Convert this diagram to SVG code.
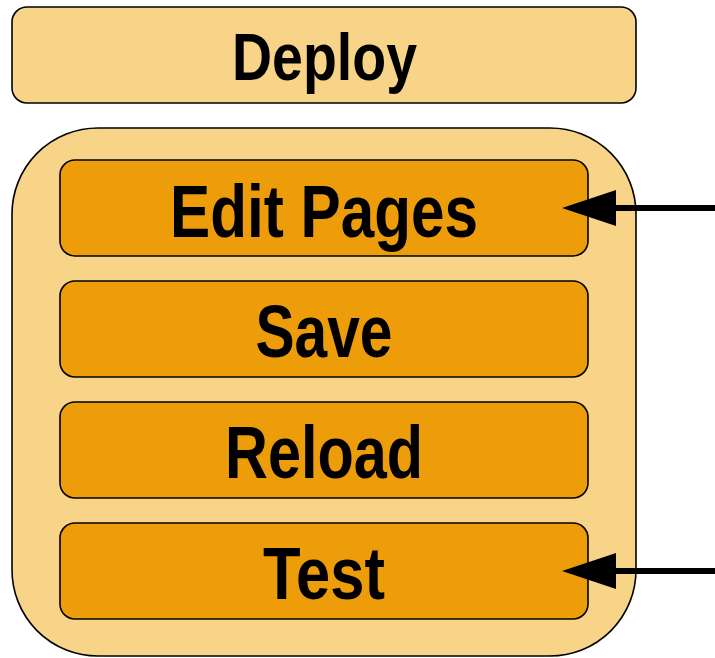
<svg xmlns="http://www.w3.org/2000/svg" width="715" height="658" viewBox="0 0 715 658">
<style>
.light{fill:#F7D487;stroke:#000;stroke-width:1.6}
.dark{fill:#ED9C0A;stroke:#000;stroke-width:1.6}
.t{font-family:"Liberation Sans Narrow","Liberation Sans",Arial,sans-serif;font-weight:bold;fill:#000;text-anchor:middle}
.big{font-size:75px}
.mid{font-size:67px}
.conn{stroke:#000;stroke-width:6;fill:none;marker-end:url(#ah)}
</style>
<defs>
<marker id="ah" markerUnits="userSpaceOnUse" markerWidth="56" markerHeight="38" refX="4" refY="18" orient="auto" viewBox="0 0 56 38">
<path d="M0,0 L54,18 L0,36 Z" fill="#000"/>
</marker>
</defs>
<rect width="715" height="658" fill="#fff"/>
<g id="deploy">
<rect class="light" x="12" y="7" width="624" height="96" rx="15"/>
<text class="t mid" x="324.5" y="80" textLength="185" lengthAdjust="spacingAndGlyphs">Deploy</text>
</g>
<g id="container">
<rect class="light" x="12" y="128" width="624" height="528" rx="86"/>
</g>
<g id="edit">
<rect class="dark" x="60" y="160" width="528" height="96" rx="15"/>
<text class="t big" x="324" y="237" textLength="308" lengthAdjust="spacingAndGlyphs">Edit Pages</text>
</g>
<g id="save">
<rect class="dark" x="60" y="281" width="528" height="96" rx="15"/>
<text class="t big" x="324" y="357" textLength="137" lengthAdjust="spacingAndGlyphs">Save</text>
</g>
<g id="reload">
<rect class="dark" x="60" y="402" width="528" height="96" rx="15"/>
<text class="t big" x="324" y="478" textLength="198" lengthAdjust="spacingAndGlyphs">Reload</text>
</g>
<g id="test">
<rect class="dark" x="60" y="523" width="528" height="96" rx="15"/>
<text class="t big" x="324" y="599" textLength="122" lengthAdjust="spacingAndGlyphs">Test</text>
</g>
<g id="connectors">
<line x1="715" y1="208" x2="612" y2="208" class="conn"/>
<line x1="715" y1="571" x2="612" y2="571" class="conn"/>
</g>
</svg>
